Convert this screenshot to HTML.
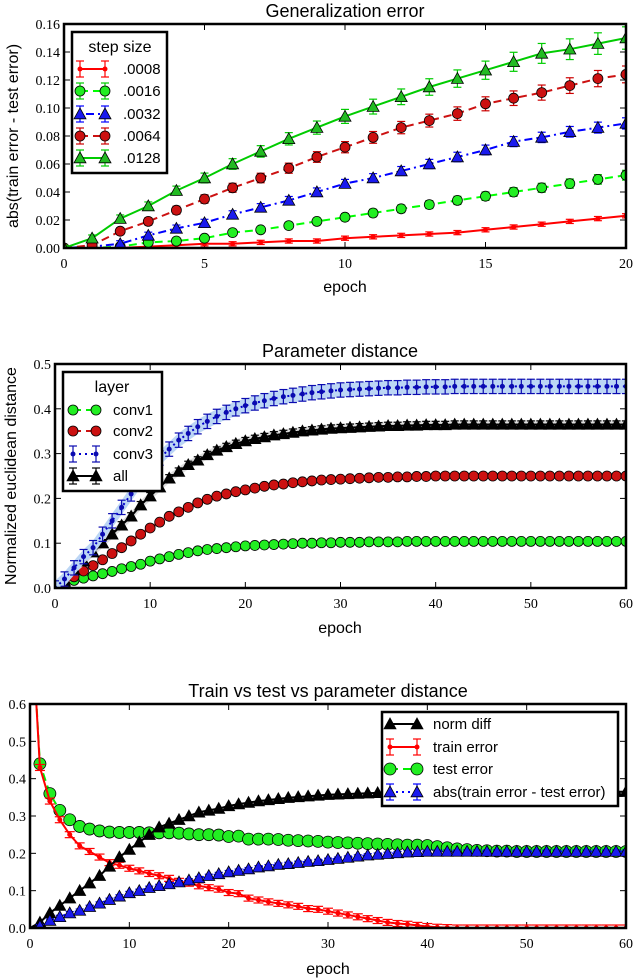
<!DOCTYPE html>
<html><head><meta charset="utf-8"><style>
html,body{margin:0;padding:0;background:#fff;}
svg{display:block;}
text{font-family:"Liberation Sans",sans-serif;}
.tick{font-family:"Liberation Serif",serif;font-size:14px;}
</style></head><body>
<svg id="chart" width="634" height="978" viewBox="0 0 634 978" xmlns="http://www.w3.org/2000/svg"></svg>
<script>
// ---------- Panel 1 data ----------
const p1Epochs = [0,1,2,3,4,5,6,7,8,9,10,11,12,13,14,15,16,17,18,19,20];
const p1Labels = [".0008",".0016",".0032",".0064",".0128"];
const p1S0008 = [0,0,0,0.001,0.002,0.003,0.003,0.004,0.005,0.005,0.007,0.008,0.009,0.010,0.011,0.013,0.015,0.017,0.019,0.021,0.023];
const p1S0016 = [0,0,0.001,0.004,0.005,0.007,0.011,0.013,0.016,0.019,0.022,0.025,0.028,0.031,0.034,0.037,0.040,0.043,0.046,0.049,0.052];
const p1S0032 = [0,0.001,0.003,0.009,0.014,0.018,0.024,0.029,0.034,0.040,0.046,0.050,0.055,0.060,0.065,0.070,0.076,0.079,0.083,0.086,0.089];
const p1S0064 = [0,0.002,0.012,0.019,0.027,0.035,0.043,0.050,0.057,0.065,0.072,0.079,0.086,0.091,0.096,0.103,0.107,0.111,0.116,0.121,0.124];
const p1S0128 = [0,0.007,0.021,0.030,0.041,0.050,0.060,0.069,0.078,0.086,0.094,0.101,0.108,0.115,0.121,0.127,0.133,0.139,0.142,0.146,0.150];
const p1XTicks = [0,5,10,15,20];
const p1YTicks = [0,0.02,0.04,0.06,0.08,0.10,0.12,0.14,0.16];
const p1YTickLabels = ["0.00","0.02","0.04","0.06","0.08","0.10","0.12","0.14","0.16"];

// ---------- Panel 2 data ----------
const p2Epochs = Array.from({length:61},(_, i)=>i);
const p2Conv1 = [0,0.005,0.017,0.022,0.027,0.032,0.037,0.043,0.048,0.053,0.060,0.065,0.070,0.075,0.079,0.083,0.086,0.088,0.090,0.092,0.094,0.095,0.096,0.097,0.098,0.099,0.100,0.100,0.101,0.101,0.102,0.102,0.102,0.103,0.103,0.103,0.103,0.104,0.104,0.104,0.104,0.104,0.104,0.104,0.104,0.104,0.104,0.104,0.104,0.104,0.104,0.104,0.104,0.104,0.104,0.104,0.104,0.104,0.104,0.104,0.104];
const p2Conv2 = [0,0.010,0.025,0.038,0.050,0.063,0.077,0.090,0.105,0.120,0.134,0.147,0.160,0.170,0.180,0.190,0.198,0.205,0.210,0.215,0.219,0.223,0.227,0.230,0.232,0.235,0.237,0.239,0.241,0.242,0.243,0.244,0.245,0.246,0.247,0.247,0.248,0.248,0.249,0.249,0.250,0.250,0.250,0.250,0.250,0.250,0.250,0.250,0.250,0.250,0.250,0.250,0.250,0.250,0.250,0.250,0.250,0.250,0.250,0.250,0.250];
const p2Conv3 = [0,0.020,0.045,0.070,0.090,0.120,0.150,0.180,0.210,0.240,0.265,0.290,0.310,0.330,0.345,0.360,0.372,0.383,0.392,0.400,0.407,0.413,0.418,0.423,0.427,0.430,0.433,0.436,0.438,0.440,0.442,0.443,0.444,0.445,0.446,0.447,0.447,0.448,0.448,0.449,0.449,0.449,0.450,0.450,0.450,0.450,0.450,0.450,0.450,0.450,0.450,0.450,0.450,0.450,0.450,0.450,0.450,0.450,0.450,0.450,0.450];
const p2All = [0,0.015,0.040,0.060,0.080,0.100,0.120,0.140,0.160,0.185,0.205,0.225,0.245,0.260,0.275,0.285,0.297,0.307,0.315,0.322,0.328,0.333,0.337,0.341,0.344,0.347,0.350,0.352,0.354,0.356,0.357,0.358,0.359,0.360,0.361,0.362,0.362,0.363,0.363,0.364,0.364,0.364,0.365,0.365,0.365,0.365,0.365,0.365,0.365,0.365,0.365,0.365,0.365,0.365,0.365,0.365,0.365,0.365,0.365,0.365,0.365];
const p2XTicks = [0,10,20,30,40,50,60];
const p2YTicks = [0,0.1,0.2,0.3,0.4,0.5];
const p2YTickLabels = ["0.0","0.1","0.2","0.3","0.4","0.5"];

// ---------- Panel 3 data ----------
const p3Epochs = Array.from({length:61},(_, i)=>i);
const p3Train = [0.9,0.43,0.34,0.29,0.25,0.22,0.205,0.19,0.175,0.168,0.16,0.153,0.146,0.14,0.133,0.125,0.12,0.113,0.108,0.104,0.095,0.092,0.08,0.075,0.07,0.066,0.062,0.058,0.052,0.05,0.045,0.04,0.035,0.03,0.025,0.02,0.015,0.012,0.01,0.007,0.004,0.002,0.001,0,0,0,0,0,0,0,0,0,0,0,0,0,0,0,0,0,0];
const p3Test = [0.9,0.44,0.36,0.315,0.29,0.272,0.265,0.26,0.257,0.256,0.256,0.256,0.255,0.255,0.255,0.254,0.252,0.25,0.25,0.249,0.245,0.246,0.238,0.238,0.238,0.237,0.235,0.234,0.233,0.232,0.23,0.229,0.228,0.227,0.226,0.225,0.224,0.223,0.222,0.222,0.221,0.218,0.215,0.212,0.21,0.208,0.207,0.206,0.206,0.205,0.205,0.205,0.205,0.205,0.205,0.205,0.205,0.205,0.205,0.205,0.205];
const p3Norm = [0,0.015,0.04,0.06,0.08,0.1,0.12,0.14,0.165,0.19,0.21,0.23,0.25,0.27,0.28,0.29,0.3,0.31,0.315,0.32,0.327,0.332,0.336,0.34,0.343,0.346,0.349,0.351,0.353,0.355,0.357,0.358,0.359,0.36,0.361,0.362,0.362,0.363,0.363,0.363,0.364,0.364,0.364,0.365,0.365,0.365,0.365,0.365,0.365,0.365,0.365,0.365,0.365,0.365,0.365,0.365,0.365,0.365,0.365,0.365,0.365];
const p3Abs = [0,0.005,0.02,0.03,0.04,0.047,0.057,0.066,0.076,0.085,0.094,0.1,0.108,0.113,0.118,0.123,0.128,0.134,0.14,0.145,0.15,0.154,0.158,0.163,0.166,0.17,0.172,0.175,0.178,0.18,0.183,0.186,0.189,0.192,0.195,0.197,0.199,0.201,0.203,0.204,0.205,0.205,0.205,0.205,0.205,0.205,0.205,0.205,0.205,0.205,0.205,0.205,0.205,0.205,0.205,0.205,0.205,0.205,0.205,0.205,0.205];
const p3XTicks = [0,10,20,30,40,50,60];
const p3YTicks = [0,0.1,0.2,0.3,0.4,0.5,0.6];
const p3YTickLabels = ["0.0","0.1","0.2","0.3","0.4","0.5","0.6"];

const NS = "http://www.w3.org/2000/svg";
const svg = document.getElementById('chart');
function mk(tag, attrs, parent){
  const e = document.createElementNS(NS, tag);
  for (const k in attrs) e.setAttribute(k, attrs[k]);
  (parent||svg).appendChild(e);
  return e;
}
function makeScale(d0,d1,r0,r1){ return v => r0 + (v-d0)/(d1-d0)*(r1-r0); }

function frame(g, L,T,R,B, xs, ys, xTicks, yTicks, yLabels, clipId){
  const cp = mk('clipPath',{id:clipId},g);
  mk('rect',{x:L,y:T,width:R-L,height:B-T},cp);
  xTicks.forEach(t=>{
    const x = xs(t);
    const tk = mk('line',{x1:x,y1:B,x2:x,y2:B-6,stroke:'#000','stroke-width':1},g);
    
    
    mk('line',{x1:x,y1:T,x2:x,y2:T+6,stroke:'#000','stroke-width':1},g);
    const lb = mk('text',{x:x,y:B+20,'text-anchor':'middle',class:'tick'},g);
    lb.textContent = t;
    
    
  });
  yTicks.forEach((t,i)=>{
    const y = ys(t);
    mk('line',{x1:L,y1:y,x2:L+6,y2:y,stroke:'#000','stroke-width':1},g);
    mk('line',{x1:R,y1:y,x2:R-6,y2:y,stroke:'#000','stroke-width':1},g);
    const lb = mk('text',{x:L-4,y:y+5,'text-anchor':'end',class:'tick'},g);
    lb.textContent = yLabels[i];
    
    
  });
}
function border(g,L,T,R,B){
  const b = mk('rect',{x:L,y:T,width:R-L,height:B-T,fill:'none',stroke:'#000','stroke-width':2.5},g);
  
  
}
function marker(g, type, x, y, fill, size){
  size = size||5;
  if(type==='circle') return mk('circle',{cx:x,cy:y,r:size,fill:fill,stroke:'#000','stroke-width':0.8},g);
  if(type==='tri'){ const s=size*1.2; return mk('polygon',{points:`${x},${y-s} ${x-s},${y+s*0.8} ${x+s},${y+s*0.8}`,fill:fill,stroke:'#000','stroke-width':0.8},g); }
  if(type==='dot') return mk('circle',{cx:x,cy:y,r:2.5,fill:fill},g);
}
function errbar(g,x,y0,y1,color,cap){
  mk('line',{x1:x,y1:y0,x2:x,y2:y1,stroke:color,'stroke-width':1.2},g);
  mk('line',{x1:x-cap,y1:y0,x2:x+cap,y2:y0,stroke:color,'stroke-width':1.2},g);
  mk('line',{x1:x-cap,y1:y1,x2:x+cap,y2:y1,stroke:color,'stroke-width':1.2},g);
}
function series(g, name, xsArr, vals, xs, ys, o, clipId){
  const sg = mk('g',{'clip-path':`url(#${clipId})`},g);
  
  
  if(o.band){
    let top = xsArr.map((e,i)=>`${xs(e)},${ys(vals[i]+o.band)}`);
    let bot = xsArr.map((e,i)=>`${xs(e)},${ys(Math.max(0,vals[i]-o.band))}`).reverse();
    mk('polygon',{points:top.concat(bot).join(' '),fill:o.bandColor,stroke:'none'},sg);
  }
  const pts = xsArr.map((e,i)=>`${xs(e)},${ys(vals[i])}`).join(' ');
  const ln = mk('polyline',{points:pts,fill:'none',stroke:o.line,'stroke-width':o.lw||2},sg);
  if(o.dash) ln.setAttribute('stroke-dasharray',o.dash);
  xsArr.forEach((e,i)=>{
    if(i < (o.startMarker||0)) return;
    const x=xs(e), v=vals[i];
    if(o.err) errbar(sg,x,ys(v+o.err(i)),ys(Math.max(0,v-o.err(i))),o.errColor||o.line,o.cap||4);
    const m = marker(sg,o.marker,x,ys(v),o.fill,o.size);
    
    
  });
}
function text(g,x,y,s,str,anchor,name,rot){
  const t = mk('text',{x:x,y:y,'font-size':s,'text-anchor':anchor||'middle'},g);
  if(rot) t.setAttribute('transform',`rotate(-90 ${x} ${y})`);
  t.textContent = str;
  
  
  return t;
}
function legend(g,x,y,w,h,name){
  const r = mk('rect',{x:x,y:y,width:w,height:h,fill:'#fff',stroke:'#000','stroke-width':2.5},g);
  
  
}
function legendEntry(g,x1,x2,y,o,label,tx){
  const eg = mk('g',{},g);
  
  
  const ln = mk('line',{x1:x1,y1:y,x2:x2,y2:y,stroke:o.line,'stroke-width':2},eg);
  if(o.dash) ln.setAttribute('stroke-dasharray',o.dash);
  [x1,x2].forEach(x=>{
    if(o.err) errbar(eg,x,y-8,y+8,o.errColor||o.line,4);
    marker(eg,o.marker,x,y,o.fill,o.size);
  });
  const t = mk('text',{x:tx,y:y+5,'font-size':15},eg);
  t.textContent = label;
}

// ===== Panel 1 =====
{
  const g = mk('g',{});  
  const L=64,T=24,R=626,B=248;
  const xs = makeScale(0,20,L,R), ys = makeScale(0,0.16,B,T);
  frame(g,L,T,R,B,xs,ys,p1XTicks,p1YTicks,p1YTickLabels,'c1');
  const sty = [
    {line:'#ff0000',marker:'dot',fill:'#ff0000',err:i=>0.0015,errColor:'#ff0000'},
    {line:'#00ff00',marker:'circle',fill:'#22ee22',dash:'8,5',err:i=>0.0015+i*0.0001,errColor:'#00cc00'},
    {line:'#0000ff',marker:'tri',fill:'#1a1aee',dash:'2,4,8,4',err:i=>0.002+i*0.0001,errColor:'#0000ff'},
    {line:'#cc1111',marker:'circle',fill:'#cc1111',dash:'8,5',err:i=>0.002+i*0.0002,errColor:'#cc0000'},
    {line:'#00cc00',marker:'tri',fill:'#22bb22',err:i=>0.002+i*0.0003,errColor:'#00cc00'}
  ];
  const data = [p1S0008,p1S0016,p1S0032,p1S0064,p1S0128];
  data.forEach((d,k)=>series(g,'series-'+p1Labels[k].slice(1),p1Epochs,d,xs,ys,sty[k],'c1'));
  border(g,L,T,R,B);
  legend(g,72,32,95,141,'step-size-legend');
  text(g,120,52,16,'step size','middle','legend-title');
  const ly=[69,91,114,136,158];
  p1Labels.forEach((lab,k)=>legendEntry(g,80,105,ly[k],sty[k],lab,123));
  text(g,345,17,18,'Generalization error','middle','chart-title');
  text(g,345,292,16,'epoch','middle','x-axis-title');
  text(g,18,136,16,'abs(train error - test error)','middle','y-axis-title',true);
}
// ===== Panel 2 =====
{
  const g = mk('g',{});  
  const L=55,T=364,R=626,B=588;
  const xs = makeScale(0,60,L,R), ys = makeScale(0,0.5,B,T);
  frame(g,L,T,R,B,xs,ys,p2XTicks,p2YTicks,p2YTickLabels,'c2');
  const sC1={line:'#00ee00',marker:'circle',fill:'#22ee22',size:5,dash:'8,5',band:0.003,bandColor:'#bbffbb'};
  const sC2={line:'#cc1111',marker:'circle',fill:'#cc1111',size:5,dash:'8,5',band:0.005,bandColor:'#f5aaaa'};
  const sC3={line:'#0000cc',marker:'dot',fill:'#0a0ab0',dash:'2,4',band:0.016,bandColor:'#bcd6f5',err:i=>0.016,errColor:'#0a0ab0',cap:4};
  const sAll={line:'#000',marker:'tri',fill:'#000',size:5,band:0.01,bandColor:'#dddddd',err:i=>0.008,errColor:'#000',cap:4};
  series(g,'conv1-series',p2Epochs,p2Conv1,xs,ys,sC1,'c2');
  series(g,'conv2-series',p2Epochs,p2Conv2,xs,ys,sC2,'c2');
  series(g,'all-series',p2Epochs,p2All,xs,ys,sAll,'c2');
  series(g,'conv3-series',p2Epochs,p2Conv3,xs,ys,sC3,'c2');
  border(g,L,T,R,B);
  legend(g,63,372,99,119,'layer-legend');
  text(g,112,392,16,'layer','middle','legend-title');
  const ly=[410,431,454,476];
  [['conv1',sC1],['conv2',sC2],['conv3',sC3],['all',sAll]].forEach((p,k)=>legendEntry(g,73,96,ly[k],p[1],p[0],113));
  text(g,340,357,18,'Parameter distance','middle','chart-title');
  text(g,340,633,16,'epoch','middle','x-axis-title');
  text(g,16,476,16,'Normalized euclidean distance','middle','y-axis-title',true);
}
// ===== Panel 3 =====
{
  const g = mk('g',{});  
  const L=30,T=704,R=626,B=928;
  const xs = makeScale(0,60,L,R), ys = makeScale(0,0.6,B,T);
  frame(g,L,T,R,B,xs,ys,p3XTicks,p3YTicks,p3YTickLabels,'c3');
  const sNorm={line:'#000',marker:'tri',fill:'#000',size:5,startMarker:1};
  const sTrain={line:'#ff0000',marker:'dot',fill:'#ff0000',err:i=>0.008,errColor:'#ff0000',cap:5,startMarker:1};
  const sTest={line:'#00ee00',marker:'circle',fill:'#22ee22',size:6,dash:'8,5',startMarker:1};
  const sAbs={line:'#0000ff',marker:'tri',fill:'#1a1aee',size:5,dash:'2,4',err:i=>0.004,errColor:'#0000ff',startMarker:1};
  series(g,'test-error-series',p3Epochs,p3Test,xs,ys,sTest,'c3');
  series(g,'train-error-series',p3Epochs,p3Train,xs,ys,sTrain,'c3');
  series(g,'norm-diff-series',p3Epochs,p3Norm,xs,ys,sNorm,'c3');
  series(g,'abs-diff-series',p3Epochs,p3Abs,xs,ys,sAbs,'c3');
  border(g,L,T,R,B);
  legend(g,382,712,236,94,'series-legend');
  const ly=[724,747,769,792];
  [['norm diff',sNorm],['train error',sTrain],['test error',sTest],['abs(train error - test error)',sAbs]].forEach((p,k)=>legendEntry(g,390,417,ly[k],p[1],p[0],433));
  text(g,328,697,18,'Train vs test vs parameter distance','middle','chart-title');
  text(g,328,974,16,'epoch','middle','x-axis-title');
}
</script>
</body></html>
